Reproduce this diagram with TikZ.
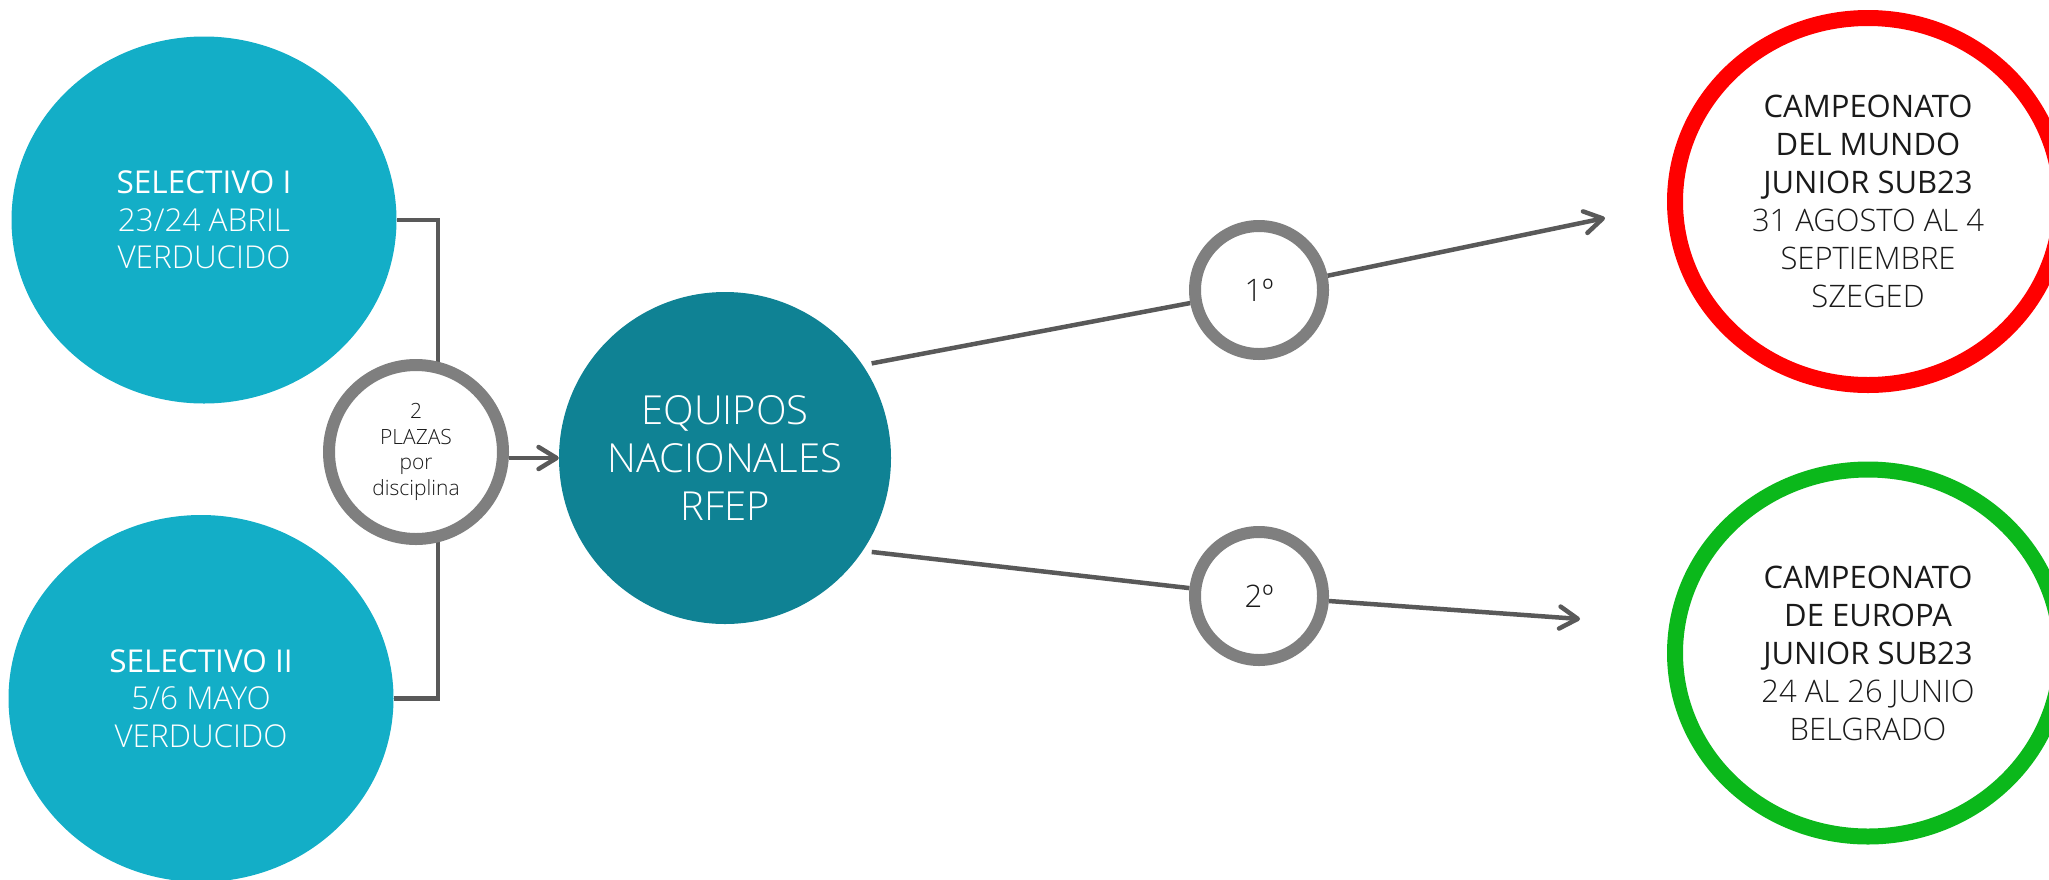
\documentclass[tikz,border=0pt]{standalone}
\usepackage{fontspec}
\setmainfont{Open Sans}
\IfFontExistsTF{Open Sans Light}{\newfontfamily\lightf{Open Sans Light}}{\newfontfamily\lightf{Open Sans}}
\usetikzlibrary{shapes.geometric,arrows.meta,backgrounds}
\definecolor{selblue}{HTML}{13AEC7}
\definecolor{eqteal}{HTML}{0F8294}
\definecolor{ringgray}{HTML}{7F7F7F}
\definecolor{linegray}{HTML}{595959}
\definecolor{redring}{HTML}{FF0000}
\definecolor{greenring}{HTML}{0BB81B}
\definecolor{txtdark}{HTML}{1A1A1A}
\begin{document}
\begin{tikzpicture}[x=1pt,y=-1pt,
  selbox/.style={ellipse, fill=selblue, minimum width=385pt, minimum height=367pt,
    inner sep=0pt, text=white, align=center, font=\fontsize{31.5}{37.5}\selectfont},
  eqbox/.style={circle, fill=eqteal, minimum size=332pt, inner sep=0pt, text=white,
    align=center, font=\lightf\fontsize{40}{48}\selectfont},
  plazas/.style={circle, draw=ringgray, line width=12pt, fill=white, minimum size=174pt,
    inner sep=0pt, text=txtdark, align=center, font=\lightf\fontsize{21}{25.5}\selectfont},
  place/.style={circle, draw=ringgray, line width=12pt, fill=white, minimum size=128pt,
    inner sep=0pt, text=txtdark, font=\lightf\fontsize{31}{37}\selectfont},
  champ/.style={ellipse, line width=16pt, fill=white, minimum width=386pt,
    minimum height=367pt, inner sep=0pt, text=txtdark, align=center,
    font=\fontsize{31}{38}\selectfont},
  conn/.style={draw=linegray, line width=4.5pt},
  arr/.style={conn, -{Straight Barb[length=18pt,width=22pt,line cap=round,line join=round]}}
]
\useasboundingbox (0,0) rectangle (2049,879);
\clip (0,0) rectangle (2049,879);

\node[selbox] (sel1) at (204,220) {SELECTIVO I\\{\lightf 23/24 ABRIL}\\{\lightf VERDUCIDO}};
\node[selbox] (sel2) at (201,698.5) {SELECTIVO II\\{\lightf 5/6 MAYO}\\{\lightf VERDUCIDO}};
\node[plazas] (ring) at (416,452) {2\\PLAZAS\\por\\disciplina};
\node[eqbox] (eq) at (725,458) {EQUIPOS\\NACIONALES\\RFEP};
\node[place] (r1) at (1259,290) {1º};
\node[place] (r2) at (1259,596) {2º};
\node[champ, draw=redring] (mundo) at (1868,201.5)
  {CAMPEONATO\\DEL MUNDO\\JUNIOR SUB23\\{\lightf 31 AGOSTO AL 4}\\{\lightf SEPTIEMBRE}\\{\lightf SZEGED}};
\node[champ, draw=greenring] (europa) at (1868,653)
  {CAMPEONATO\\DE EUROPA\\JUNIOR SUB23\\{\lightf 24 AL 26 JUNIO}\\{\lightf BELGRADO}};
\coordinate (t1) at (1605,218);
\coordinate (t2) at (1580,619);

\begin{scope}[on background layer]
\draw[conn] (sel1.east) -| ([xshift=22pt]ring.center);
\draw[conn] (sel2.east) -| ([xshift=22pt]ring.center);
\draw[arr] (ring.east |- eq.west) -- (eq.west);
\draw[conn, shorten <=9pt] (eq.34) -- (r1);
\draw[arr] (r1) -- (t1);
\draw[conn, shorten <=9pt] (eq.-34) -- (r2);
\draw[arr] (r2) -- (t2);
\end{scope}
\end{tikzpicture}
\end{document}
